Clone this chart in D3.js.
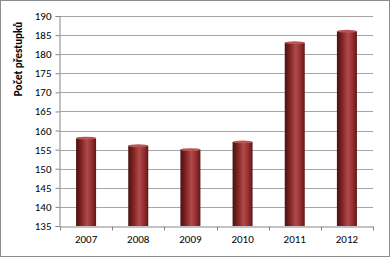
<!DOCTYPE html>
<html>
<head>
<meta charset="utf-8">
<script src="https://cdnjs.cloudflare.com/ajax/libs/d3/7.8.5/d3.min.js"></script>
<style>
  body { margin: 0; background: #fff; }
  text { font-family: Calibri, Carlito, "Open Sans", "Liberation Sans", sans-serif; fill: #000; }
</style>
</head>
<body>
<div id="graph"></div>
<script>
const years = ['2007', '2008', '2009', '2010', '2011', '2012'];
const counts = [158, 156, 155, 157, 183, 186];
const yTicks = [135, 140, 145, 150, 155, 160, 165, 170, 175, 180, 185, 190];
const yTitle = 'Počet přestupků';

const w = 391, h = 258;
const padLeft = 60, padRight = 373, padTop = 16, padBottom = 226;

const svg = d3.select('#graph').append('svg')
    .attr('width', w)
    .attr('height', h);

// bar gradient (cylinder look)
const defs = svg.append('defs');
const grad = defs.append('linearGradient').attr('id', 'cyl')
    .attr('x1', '0%').attr('x2', '100%').attr('y1', '0%').attr('y2', '0%');
grad.append('stop').attr('offset', '0%').attr('stop-color', '#4a1010');
grad.append('stop').attr('offset', '25%').attr('stop-color', '#7e2222');
grad.append('stop').attr('offset', '55%').attr('stop-color', '#b04a4a');
grad.append('stop').attr('offset', '80%').attr('stop-color', '#932d2d');
grad.append('stop').attr('offset', '100%').attr('stop-color', '#5e1616');

// outer frame
svg.append('rect')
    .attr('x', 0.5).attr('y', 0.5)
    .attr('width', w - 2).attr('height', h - 2)
    .attr('fill', '#fff')
    .attr('stroke', '#8c8c8c');

const xScale = d3.scaleBand()
    .domain(years)
    .range([padLeft, padRight]);

const yScale = d3.scaleLinear()
    .domain([135, 190])
    .range([padBottom, padTop]);

// gridlines
svg.append('g')
    .selectAll('line')
    .data(yTicks.slice(1))
    .enter()
    .append('line')
    .attr('x1', padLeft).attr('x2', padRight)
    .attr('y1', d => Math.round(yScale(d)) + 0.5)
    .attr('y2', d => Math.round(yScale(d)) + 0.5)
    .attr('stroke', '#a6a6a6');

// y axis
const yAxis = d3.axisLeft(yScale).tickValues(yTicks).tickSize(4).tickPadding(4);
const gy = svg.append('g')
    .attr('transform', 'translate(' + (padLeft - 0.5) + ',0)')
    .call(yAxis);
gy.select('.domain').attr('stroke', '#868686');
gy.selectAll('.tick line').attr('stroke', '#868686');
gy.selectAll('.tick text').attr('font-size', 11).attr('fill', '#000')
    .style('font-family', 'Calibri, Carlito, "Open Sans", "Liberation Sans", sans-serif');

// bars
const bw = 20;
const bars = svg.append('g');
bars.selectAll('rect')
    .data(counts)
    .enter()
    .append('rect')
    .attr('x', (d, i) => xScale(years[i]) + xScale.bandwidth() / 2 - bw / 2)
    .attr('y', d => yScale(d))
    .attr('width', bw)
    .attr('height', d => padBottom - yScale(d))
    .attr('fill', 'url(#cyl)');
bars.selectAll('ellipse')
    .data(counts)
    .enter()
    .append('ellipse')
    .attr('cx', (d, i) => xScale(years[i]) + xScale.bandwidth() / 2)
    .attr('cy', d => yScale(d))
    .attr('rx', bw / 2)
    .attr('ry', 1.5)
    .attr('fill', '#b85656');

// x axis
const xAxis = d3.axisBottom(xScale).tickSize(0).tickPadding(9);
const gx = svg.append('g')
    .attr('transform', 'translate(0,' + (padBottom + 0.5) + ')')
    .call(xAxis);
gx.select('.domain').attr('stroke', '#868686');
gx.selectAll('.tick text').attr('font-size', 11).attr('fill', '#000')
    .style('font-family', 'Calibri, Carlito, "Open Sans", "Liberation Sans", sans-serif');
// category boundary ticks
gx.selectAll('.bound')
    .data(years.concat(['end']))
    .enter()
    .append('line')
    .attr('x1', (d, i) => Math.round(padLeft + i * xScale.step()) + 0.5)
    .attr('x2', (d, i) => Math.round(padLeft + i * xScale.step()) + 0.5)
    .attr('y1', 0).attr('y2', 4)
    .attr('stroke', '#868686');

// y title
svg.append('text')
    .text(yTitle)
    .attr('transform', 'translate(22,59) rotate(-90)')
    .attr('text-anchor', 'middle')
    .attr('font-size', 11)
    .attr('font-weight', 'bold');
</script>
</body>
</html>
